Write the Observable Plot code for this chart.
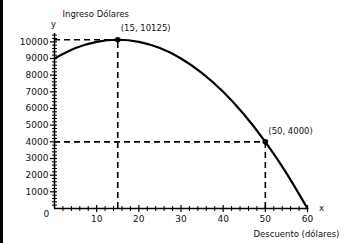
<!DOCTYPE html>
<html><head><meta charset="utf-8">
<script src="https://cdn.jsdelivr.net/npm/d3@7"></script>
<script src="https://cdn.jsdelivr.net/npm/@observablehq/plot@0.6"></script>
<style>
body{margin:0;background:#fff;}
#wrap{position:relative;width:345px;height:243px;overflow:hidden;background:#fff;}
#bar{position:absolute;left:0;top:0;width:3px;height:243px;background:#000;}
</style></head><body><div id="wrap"><div id="bar"></div></div>
<script>
const discount = [0, 5, 10, 15, 20, 25, 30, 35, 40, 45, 50, 55, 60];
const revenue = [9000, 9625, 10000, 10125, 10000, 9625, 9000, 8125, 7000, 5625, 4000, 2125, 0];
const xTicks = [10, 20, 30, 40, 50, 60];
const xMinor = [2,4,6,8,12,14,16,18,22,24,26,28,32,34,36,38,42,44,46,48,52,54,56,58];
const yTicks = [1000, 2000, 3000, 4000, 5000, 6000, 7000, 8000, 9000, 10000];
const yMinor = [200,400,600,800,1200,1400,1600,1800,2200,2400,2600,2800,3200,3400,3600,3800,
  4200,4400,4600,4800,5200,5400,5600,5800,6200,6400,6600,6800,7200,7400,7600,7800,
  8200,8400,8600,8800,9200,9400,9600,9800,10200,10400];
const keyX = [15, 50];
const keyY = [10125, 4000];
const keyLabels = ["(15, 10125)", "(50, 4000)"];

const curve = discount.map((x, i) => ({x, y: revenue[i]}));
const keys = keyX.map((x, i) => ({x, y: keyY[i], label: keyLabels[i]}));
const font = "DejaVu Sans";
const fs = 8.5;

const vTick = {draw(ctx, size) { const r = Math.sqrt(size / Math.PI); ctx.moveTo(0, -r); ctx.lineTo(0, r); }};
const hTick = {draw(ctx, size) { const r = Math.sqrt(size / Math.PI); ctx.moveTo(-r, 0); ctx.lineTo(r, 0); }};

const chart = Plot.plot({
  width: 345, height: 243,
  marginLeft: 54, marginRight: 38, marginTop: 33, marginBottom: 35,
  style: {fontFamily: font, fontSize: fs + "px", background: "transparent", color: "#111"},
  x: {domain: [0, 60], axis: null},
  y: {domain: [0, 10500], axis: null},
  marks: [
    Plot.ruleY(keys, {y: "y", x1: 0, x2: "x", stroke: "#000", strokeWidth: 1.6, strokeDasharray: "6,4"}),
    Plot.ruleX(keys, {x: "x", y1: 0, y2: "y", stroke: "#000", strokeWidth: 1.6, strokeDasharray: "6,4"}),
    Plot.line(curve, {x: "x", y: "y", curve: "natural", stroke: "#000", strokeWidth: 2.2}),
    Plot.ruleX([0], {y1: 0, y2: 10500, stroke: "#000", strokeWidth: 1.5}),
    Plot.ruleY([0], {x1: 0, x2: 60, stroke: "#000", strokeWidth: 1.5}),
    Plot.dot(xTicks, {x: d => d, y: () => 0, symbol: vTick, r: 3.5, stroke: "#000", strokeWidth: 1.2, fill: "none"}),
    Plot.dot(xMinor, {x: d => d, y: () => 0, symbol: vTick, r: 2.5, stroke: "#000", strokeWidth: 1, fill: "none"}),
    Plot.dot(yTicks, {x: () => 0, y: d => d, symbol: hTick, r: 3.5, dx: -1, stroke: "#000", strokeWidth: 1.2, fill: "none"}),
    Plot.dot(yMinor, {x: () => 0, y: d => d, symbol: hTick, r: 2.5, stroke: "#000", strokeWidth: 1, fill: "none"}),
    Plot.axisX(xTicks, {tickSize: 0, tickPadding: 7, label: null, tickFormat: d => String(d), fontSize: 9, fill: "#111"}),
    Plot.axisY(yTicks, {tickSize: 0, tickPadding: 6, label: null, tickFormat: d => String(d), fontSize: 9, fill: "#111"}),
    Plot.dot(keys, {x: "x", y: "y", r: 2.8, fill: "#000"}),
    Plot.text(keys, {x: "x", y: "y", text: "label", textAnchor: "start", dx: 3, dy: -11, fontSize: fs, fill: "#111"}),
    Plot.text(["0"], {frameAnchor: "bottom-left", text: d => d, dx: -11, dy: 8, fontSize: 9, fill: "#111"}),
    Plot.text(["Ingreso Dólares"], {frameAnchor: "top-left", text: d => d, textAnchor: "start", dx: 8, dy: -23, fontSize: fs, fill: "#111"}),
    Plot.text(["y"], {frameAnchor: "top-left", text: d => d, textAnchor: "middle", dx: -1, dy: -13, fontSize: fs, fill: "#111"}),
    Plot.text(["x"], {frameAnchor: "bottom-right", text: d => d, textAnchor: "middle", dx: 14, dy: 2, fontSize: fs, fill: "#111"}),
    Plot.text(["Descuento (dólares)"], {frameAnchor: "bottom-right", text: d => d, textAnchor: "start", dx: -54, dy: 28, fontSize: fs, fill: "#111"})
  ]
});
document.getElementById("wrap").appendChild(chart);
</script></body></html>
